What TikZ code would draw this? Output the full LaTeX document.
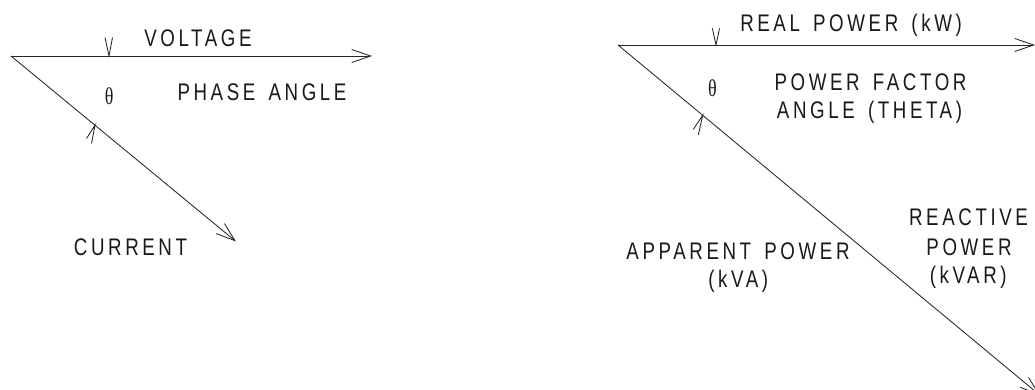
\documentclass[tikz,border=0pt]{standalone}
\usepackage{fontspec}
\usetikzlibrary{arrows.meta}
\newfontfamily\lblfont[FakeStretch=0.78,LetterSpace=15,WordSpace=1.5]{Liberation Sans}
\newfontfamily\thfont[FakeStretch=0.75]{Liberation Serif}
\tikzset{
  vec/.style={line width=0.85pt, draw=black!85, -{Straight Barb[length=19pt,width=13pt,line width=0.85pt]}},
  tick/.style={line width=0.85pt, draw=black!85},
  lbl/.style={inner sep=0pt, anchor=base, font=\lblfont\fontsize{24}{28}\selectfont, text=black!90},
  th/.style={inner sep=0pt, anchor=center, font=\thfont\fontsize{24}{28}\selectfont, text=black!90}
}
\begin{document}
\begin{tikzpicture}[x=1pt,y=-1pt]
\useasboundingbox (0,0) rectangle (1035,390);
\clip (0,0) rectangle (1035,390);
% ---------- left diagram ----------
\coordinate (o1) at (11,56);
\coordinate (v1) at (372,56);
\coordinate (c1) at (236,241.5);
\draw[vec] (o1) -- (v1);
\draw[vec] (o1) -- (c1);
\coordinate (t1) at (109,56);
\draw[tick] (105,37.5) -- (t1) -- (112.5,37.5);
\coordinate (t2) at (95,125.3);
\draw[tick] (86.5,138.5) -- (t2) -- (91.5,143.5);
\node[th] (th1) at (109.3,96.7) {θ};
\node[lbl] (volt) at (198,46.7) {VOLTAGE};
\node[lbl] (phase) at (262,101) {PHASE ANGLE};
\node[lbl] (curr) at (130.5,255) {CURRENT};
% ---------- right diagram ----------
\coordinate (o2) at (618,45);
\coordinate (p2) at (1035,45);
\coordinate (s2) at (1040,395.3);
\draw[vec] (o2) -- (p2);
\draw[vec] (o2) -- (s2);
\coordinate (t3) at (716,45);
\draw[tick] (712.3,28.3) -- (t3) -- (719.5,28.3);
\coordinate (t4) at (702.7,115.3);
\draw[tick] (693.3,129.5) -- (t4) -- (698.3,135);
\node[th] (th2) at (712.3,88.3) {θ};
\node[lbl] (real) at (851,31.7) {REAL POWER (kW)};
\node[lbl] (pf1) at (870.5,90.7) {POWER FACTOR};
\node[lbl] (pf2) at (869.5,118.5) {ANGLE (THETA)};
\node[lbl] (rp1) at (968.5,225) {REACTIVE};
\node[lbl] (rp2) at (969,255) {POWER};
\node[lbl] (rp3) at (968.2,283) {(kVAR)};
\node[lbl] (ap1) at (738,259.3) {APPARENT POWER};
\node[lbl] (ap2) at (738.2,287) {(kVA)};
\end{tikzpicture}
\end{document}
